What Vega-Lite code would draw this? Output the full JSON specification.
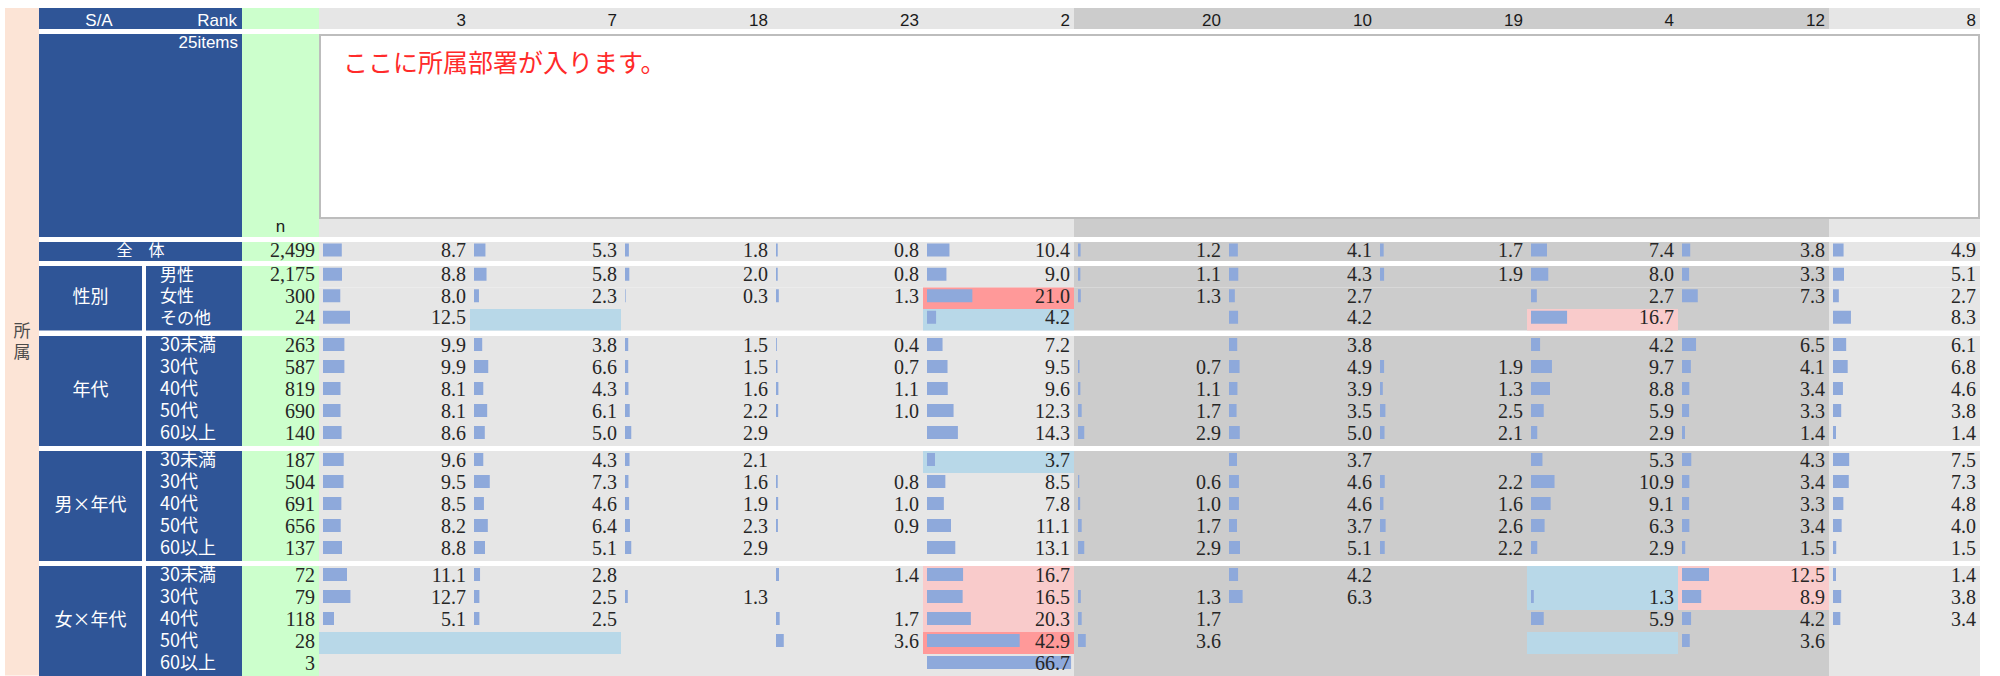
{
"$schema": "https://vega.github.io/schema/vega-lite/v6.json",
"background": "white",
"padding": {"left": 5, "top": 8, "right": 0, "bottom": 0},
"spacing": 0,
"datasets": {
"cols": [{"c":3},{"c":7},{"c":18},{"c":23},{"c":2},{"c":20},{"c":10},{"c":19},{"c":4},{"c":12},{"c":8}],
"groups": [{"g":"全体","label":"全　体"},{"g":"性別","label":"性別"},{"g":"年代","label":"年代"},{"g":"男×年代","label":"男×年代"},{"g":"女×年代","label":"女×年代"}],
"rows": [
{"g":"全体","s":"全体","n":2499},
{"g":"性別","s":"男性","n":2175},{"g":"性別","s":"女性","n":300},{"g":"性別","s":"その他","n":24},
{"g":"年代","s":"30未満","n":263},{"g":"年代","s":"30代","n":587},{"g":"年代","s":"40代","n":819},{"g":"年代","s":"50代","n":690},{"g":"年代","s":"60以上","n":140},
{"g":"男×年代","s":"30未満","n":187},{"g":"男×年代","s":"30代","n":504},{"g":"男×年代","s":"40代","n":691},{"g":"男×年代","s":"50代","n":656},{"g":"男×年代","s":"60以上","n":137},
{"g":"女×年代","s":"30未満","n":72},{"g":"女×年代","s":"30代","n":79},{"g":"女×年代","s":"40代","n":118},{"g":"女×年代","s":"50代","n":28},{"g":"女×年代","s":"60以上","n":3}
],
"cells": [
{"g":"全体","s":"全体","c":3,"v":8.7},{"g":"全体","s":"全体","c":7,"v":5.3},{"g":"全体","s":"全体","c":18,"v":1.8},{"g":"全体","s":"全体","c":23,"v":0.8},{"g":"全体","s":"全体","c":2,"v":10.4},{"g":"全体","s":"全体","c":20,"v":1.2},{"g":"全体","s":"全体","c":10,"v":4.1},{"g":"全体","s":"全体","c":19,"v":1.7},{"g":"全体","s":"全体","c":4,"v":7.4},{"g":"全体","s":"全体","c":12,"v":3.8},{"g":"全体","s":"全体","c":8,"v":4.9},

{"g":"性別","s":"男性","c":3,"v":8.8},{"g":"性別","s":"男性","c":7,"v":5.8},{"g":"性別","s":"男性","c":18,"v":2.0},{"g":"性別","s":"男性","c":23,"v":0.8},{"g":"性別","s":"男性","c":2,"v":9.0},{"g":"性別","s":"男性","c":20,"v":1.1},{"g":"性別","s":"男性","c":10,"v":4.3},{"g":"性別","s":"男性","c":19,"v":1.9},{"g":"性別","s":"男性","c":4,"v":8.0},{"g":"性別","s":"男性","c":12,"v":3.3},{"g":"性別","s":"男性","c":8,"v":5.1},
{"g":"性別","s":"女性","c":3,"v":8.0},{"g":"性別","s":"女性","c":7,"v":2.3},{"g":"性別","s":"女性","c":18,"v":0.3},{"g":"性別","s":"女性","c":23,"v":1.3},{"g":"性別","s":"女性","c":2,"v":21.0,"sig":"++"},{"g":"性別","s":"女性","c":20,"v":1.3},{"g":"性別","s":"女性","c":10,"v":2.7},{"g":"性別","s":"女性","c":19},{"g":"性別","s":"女性","c":4,"v":2.7},{"g":"性別","s":"女性","c":12,"v":7.3},{"g":"性別","s":"女性","c":8,"v":2.7},
{"g":"性別","s":"その他","c":3,"v":12.5},{"g":"性別","s":"その他","c":7,"sig":"-"},{"g":"性別","s":"その他","c":18},{"g":"性別","s":"その他","c":23},{"g":"性別","s":"その他","c":2,"v":4.2,"sig":"-"},{"g":"性別","s":"その他","c":20},{"g":"性別","s":"その他","c":10,"v":4.2},{"g":"性別","s":"その他","c":19},{"g":"性別","s":"その他","c":4,"v":16.7,"sig":"+"},{"g":"性別","s":"その他","c":12},{"g":"性別","s":"その他","c":8,"v":8.3},

{"g":"年代","s":"30未満","c":3,"v":9.9},{"g":"年代","s":"30未満","c":7,"v":3.8},{"g":"年代","s":"30未満","c":18,"v":1.5},{"g":"年代","s":"30未満","c":23,"v":0.4},{"g":"年代","s":"30未満","c":2,"v":7.2},{"g":"年代","s":"30未満","c":20},{"g":"年代","s":"30未満","c":10,"v":3.8},{"g":"年代","s":"30未満","c":19},{"g":"年代","s":"30未満","c":4,"v":4.2},{"g":"年代","s":"30未満","c":12,"v":6.5},{"g":"年代","s":"30未満","c":8,"v":6.1},
{"g":"年代","s":"30代","c":3,"v":9.9},{"g":"年代","s":"30代","c":7,"v":6.6},{"g":"年代","s":"30代","c":18,"v":1.5},{"g":"年代","s":"30代","c":23,"v":0.7},{"g":"年代","s":"30代","c":2,"v":9.5},{"g":"年代","s":"30代","c":20,"v":0.7},{"g":"年代","s":"30代","c":10,"v":4.9},{"g":"年代","s":"30代","c":19,"v":1.9},{"g":"年代","s":"30代","c":4,"v":9.7},{"g":"年代","s":"30代","c":12,"v":4.1},{"g":"年代","s":"30代","c":8,"v":6.8},
{"g":"年代","s":"40代","c":3,"v":8.1},{"g":"年代","s":"40代","c":7,"v":4.3},{"g":"年代","s":"40代","c":18,"v":1.6},{"g":"年代","s":"40代","c":23,"v":1.1},{"g":"年代","s":"40代","c":2,"v":9.6},{"g":"年代","s":"40代","c":20,"v":1.1},{"g":"年代","s":"40代","c":10,"v":3.9},{"g":"年代","s":"40代","c":19,"v":1.3},{"g":"年代","s":"40代","c":4,"v":8.8},{"g":"年代","s":"40代","c":12,"v":3.4},{"g":"年代","s":"40代","c":8,"v":4.6},
{"g":"年代","s":"50代","c":3,"v":8.1},{"g":"年代","s":"50代","c":7,"v":6.1},{"g":"年代","s":"50代","c":18,"v":2.2},{"g":"年代","s":"50代","c":23,"v":1.0},{"g":"年代","s":"50代","c":2,"v":12.3},{"g":"年代","s":"50代","c":20,"v":1.7},{"g":"年代","s":"50代","c":10,"v":3.5},{"g":"年代","s":"50代","c":19,"v":2.5},{"g":"年代","s":"50代","c":4,"v":5.9},{"g":"年代","s":"50代","c":12,"v":3.3},{"g":"年代","s":"50代","c":8,"v":3.8},
{"g":"年代","s":"60以上","c":3,"v":8.6},{"g":"年代","s":"60以上","c":7,"v":5.0},{"g":"年代","s":"60以上","c":18,"v":2.9},{"g":"年代","s":"60以上","c":23},{"g":"年代","s":"60以上","c":2,"v":14.3},{"g":"年代","s":"60以上","c":20,"v":2.9},{"g":"年代","s":"60以上","c":10,"v":5.0},{"g":"年代","s":"60以上","c":19,"v":2.1},{"g":"年代","s":"60以上","c":4,"v":2.9},{"g":"年代","s":"60以上","c":12,"v":1.4},{"g":"年代","s":"60以上","c":8,"v":1.4},

{"g":"男×年代","s":"30未満","c":3,"v":9.6},{"g":"男×年代","s":"30未満","c":7,"v":4.3},{"g":"男×年代","s":"30未満","c":18,"v":2.1},{"g":"男×年代","s":"30未満","c":23},{"g":"男×年代","s":"30未満","c":2,"v":3.7,"sig":"-"},{"g":"男×年代","s":"30未満","c":20},{"g":"男×年代","s":"30未満","c":10,"v":3.7},{"g":"男×年代","s":"30未満","c":19},{"g":"男×年代","s":"30未満","c":4,"v":5.3},{"g":"男×年代","s":"30未満","c":12,"v":4.3},{"g":"男×年代","s":"30未満","c":8,"v":7.5},
{"g":"男×年代","s":"30代","c":3,"v":9.5},{"g":"男×年代","s":"30代","c":7,"v":7.3},{"g":"男×年代","s":"30代","c":18,"v":1.6},{"g":"男×年代","s":"30代","c":23,"v":0.8},{"g":"男×年代","s":"30代","c":2,"v":8.5},{"g":"男×年代","s":"30代","c":20,"v":0.6},{"g":"男×年代","s":"30代","c":10,"v":4.6},{"g":"男×年代","s":"30代","c":19,"v":2.2},{"g":"男×年代","s":"30代","c":4,"v":10.9},{"g":"男×年代","s":"30代","c":12,"v":3.4},{"g":"男×年代","s":"30代","c":8,"v":7.3},
{"g":"男×年代","s":"40代","c":3,"v":8.5},{"g":"男×年代","s":"40代","c":7,"v":4.6},{"g":"男×年代","s":"40代","c":18,"v":1.9},{"g":"男×年代","s":"40代","c":23,"v":1.0},{"g":"男×年代","s":"40代","c":2,"v":7.8},{"g":"男×年代","s":"40代","c":20,"v":1.0},{"g":"男×年代","s":"40代","c":10,"v":4.6},{"g":"男×年代","s":"40代","c":19,"v":1.6},{"g":"男×年代","s":"40代","c":4,"v":9.1},{"g":"男×年代","s":"40代","c":12,"v":3.3},{"g":"男×年代","s":"40代","c":8,"v":4.8},
{"g":"男×年代","s":"50代","c":3,"v":8.2},{"g":"男×年代","s":"50代","c":7,"v":6.4},{"g":"男×年代","s":"50代","c":18,"v":2.3},{"g":"男×年代","s":"50代","c":23,"v":0.9},{"g":"男×年代","s":"50代","c":2,"v":11.1},{"g":"男×年代","s":"50代","c":20,"v":1.7},{"g":"男×年代","s":"50代","c":10,"v":3.7},{"g":"男×年代","s":"50代","c":19,"v":2.6},{"g":"男×年代","s":"50代","c":4,"v":6.3},{"g":"男×年代","s":"50代","c":12,"v":3.4},{"g":"男×年代","s":"50代","c":8,"v":4.0},
{"g":"男×年代","s":"60以上","c":3,"v":8.8},{"g":"男×年代","s":"60以上","c":7,"v":5.1},{"g":"男×年代","s":"60以上","c":18,"v":2.9},{"g":"男×年代","s":"60以上","c":23},{"g":"男×年代","s":"60以上","c":2,"v":13.1},{"g":"男×年代","s":"60以上","c":20,"v":2.9},{"g":"男×年代","s":"60以上","c":10,"v":5.1},{"g":"男×年代","s":"60以上","c":19,"v":2.2},{"g":"男×年代","s":"60以上","c":4,"v":2.9},{"g":"男×年代","s":"60以上","c":12,"v":1.5},{"g":"男×年代","s":"60以上","c":8,"v":1.5},

{"g":"女×年代","s":"30未満","c":3,"v":11.1},{"g":"女×年代","s":"30未満","c":7,"v":2.8},{"g":"女×年代","s":"30未満","c":18},{"g":"女×年代","s":"30未満","c":23,"v":1.4},{"g":"女×年代","s":"30未満","c":2,"v":16.7,"sig":"+"},{"g":"女×年代","s":"30未満","c":20},{"g":"女×年代","s":"30未満","c":10,"v":4.2},{"g":"女×年代","s":"30未満","c":19},{"g":"女×年代","s":"30未満","c":4,"sig":"-"},{"g":"女×年代","s":"30未満","c":12,"v":12.5,"sig":"+"},{"g":"女×年代","s":"30未満","c":8,"v":1.4},
{"g":"女×年代","s":"30代","c":3,"v":12.7},{"g":"女×年代","s":"30代","c":7,"v":2.5},{"g":"女×年代","s":"30代","c":18,"v":1.3},{"g":"女×年代","s":"30代","c":23},{"g":"女×年代","s":"30代","c":2,"v":16.5,"sig":"+"},{"g":"女×年代","s":"30代","c":20,"v":1.3},{"g":"女×年代","s":"30代","c":10,"v":6.3},{"g":"女×年代","s":"30代","c":19},{"g":"女×年代","s":"30代","c":4,"v":1.3,"sig":"-"},{"g":"女×年代","s":"30代","c":12,"v":8.9,"sig":"+"},{"g":"女×年代","s":"30代","c":8,"v":3.8},
{"g":"女×年代","s":"40代","c":3,"v":5.1},{"g":"女×年代","s":"40代","c":7,"v":2.5},{"g":"女×年代","s":"40代","c":18},{"g":"女×年代","s":"40代","c":23,"v":1.7},{"g":"女×年代","s":"40代","c":2,"v":20.3,"sig":"+"},{"g":"女×年代","s":"40代","c":20,"v":1.7},{"g":"女×年代","s":"40代","c":10},{"g":"女×年代","s":"40代","c":19},{"g":"女×年代","s":"40代","c":4,"v":5.9},{"g":"女×年代","s":"40代","c":12,"v":4.2},{"g":"女×年代","s":"40代","c":8,"v":3.4},
{"g":"女×年代","s":"50代","c":3,"sig":"-"},{"g":"女×年代","s":"50代","c":7,"sig":"-"},{"g":"女×年代","s":"50代","c":18},{"g":"女×年代","s":"50代","c":23,"v":3.6},{"g":"女×年代","s":"50代","c":2,"v":42.9,"sig":"++"},{"g":"女×年代","s":"50代","c":20,"v":3.6},{"g":"女×年代","s":"50代","c":10},{"g":"女×年代","s":"50代","c":19},{"g":"女×年代","s":"50代","c":4,"sig":"-"},{"g":"女×年代","s":"50代","c":12,"v":3.6},{"g":"女×年代","s":"50代","c":8},
{"g":"女×年代","s":"60以上","c":3},{"g":"女×年代","s":"60以上","c":7},{"g":"女×年代","s":"60以上","c":18},{"g":"女×年代","s":"60以上","c":23},{"g":"女×年代","s":"60以上","c":2,"v":66.7},{"g":"女×年代","s":"60以上","c":20},{"g":"女×年代","s":"60以上","c":10},{"g":"女×年代","s":"60以上","c":19},{"g":"女×年代","s":"60以上","c":4},{"g":"女×年代","s":"60以上","c":12},{"g":"女×年代","s":"60以上","c":8}
]
},
"hconcat": [
{
"width": 34, "height": 667.5,
"view": {"fill": "#FCE4D6", "stroke": null},
"data": {"values": [{"t": ["所", "属"]}]},
"mark": {"type": "text", "align": "center", "baseline": "middle", "dy": -10, "font": "Noto Sans CJK JP", "fontSize": 17, "lineHeight": 21, "color": "#4A4A4A"},
"encoding": {"text": {"field": "t"}}
},
{
"vconcat": [
{
"hconcat": [
{
"width": 203, "height": 21,
"view": {"fill": "#2F5597", "stroke": null},
"data": {"values": [{"a": "S/A", "b": "Rank"}]},
"layer": [
{"mark": {"type": "text", "clip": true, "align": "center", "baseline": "middle", "dx": 60, "dy": 2.5, "color": "#FFFFFF", "font": "Liberation Sans", "fontSize": 17},
"encoding": {"x": {"datum": 0, "type": "quantitative", "scale": {"domain": [0, 1]}, "axis": null}, "text": {"field": "a"}}},
{"mark": {"type": "text", "clip": true, "align": "right", "baseline": "middle", "dx": -5, "dy": 2.5, "color": "#FFFFFF", "font": "Liberation Sans", "fontSize": 17},
"encoding": {"x": {"datum": 1, "type": "quantitative", "scale": {"domain": [0, 1]}, "axis": null}, "text": {"field": "b"}}}
]
},
{
"width": 77, "height": 21,
"view": {"fill": "#CCFFCC", "stroke": null},
"data": {"values": [{"t": ""}]},
"mark": {"type": "text", "clip": true},
"encoding": {"text": {"field": "t"}}
},
{
"width": 1661, "height": 21,
"data": {"name": "cols"},
"layer": [
{"mark": {"type": "rect"},
"encoding": {"x": {"field": "c", "type": "ordinal", "sort": [3,7,18,23,2,20,10,19,4,12,8], "axis": null},
"color": {"field": "c", "type": "ordinal", "scale": {"domain": [3,7,18,23,2,20,10,19,4,12,8], "range": ["#E6E6E6","#E6E6E6","#E6E6E6","#E6E6E6","#E6E6E6","#CCCCCC","#CCCCCC","#CCCCCC","#CCCCCC","#CCCCCC","#E6E6E6"]}, "legend": null}}},
{"mark": {"type": "text", "clip": true, "align": "right", "baseline": "middle", "dx": -4, "dy": 2.5, "color": "#1A1A1A", "font": "Liberation Sans", "fontSize": 17},
"encoding": {"x": {"field": "c", "type": "ordinal", "sort": [3,7,18,23,2,20,10,19,4,12,8], "axis": null, "bandPosition": 1}, "text": {"field": "c"}}}
]
}
],
"spacing": 0
},
{
"hconcat": [
{
"width": 203, "height": 203,
"view": {"fill": "#2F5597", "stroke": null},
"data": {"values": [{"t": "25items"}]},
"mark": {"type": "text", "clip": true, "align": "right", "baseline": "top", "dx": -4, "dy": 1, "color": "#FFFFFF", "font": "Liberation Sans", "fontSize": 17},
"encoding": {"x": {"datum": 1, "type": "quantitative", "scale": {"domain": [0, 1]}, "axis": null}, "y": {"datum": 1, "type": "quantitative", "scale": {"domain": [0, 1]}, "axis": null}, "text": {"field": "t"}}
},
{
"width": 77, "height": 203,
"view": {"fill": "#CCFFCC", "stroke": null},
"data": {"values": [{"t": "n"}]},
"mark": {"type": "text", "clip": true, "align": "center", "baseline": "bottom", "dy": -1, "color": "#1A1A1A", "font": "Liberation Sans", "fontSize": 17},
"encoding": {"y": {"datum": 0, "type": "quantitative", "scale": {"domain": [0, 1]}, "axis": null}, "text": {"field": "t"}}
},
{
"vconcat": [
{
"width": 1661, "height": 185,
"view": {"fill": "#FFFFFF", "stroke": null},
"data": {"values": [{"t": "ここに所属部署が入ります。"}]},
"layer": [
{"mark": {"type": "rect", "clip": true, "fill": "#FFFFFF", "stroke": "#BDBDBD", "strokeWidth": 4},
"encoding": {"x": {"datum": 0, "type": "quantitative", "scale": {"domain": [0, 1]}, "axis": null}, "x2": {"datum": 1}, "y": {"datum": 0, "type": "quantitative", "scale": {"domain": [0, 1]}, "axis": null}, "y2": {"datum": 1}}},
{"mark": {"type": "text", "clip": true, "align": "left", "baseline": "middle", "dx": 24, "dy": 30, "color": "#FF2A2A", "font": "Noto Sans CJK JP", "fontSize": 25},
"encoding": {"x": {"datum": 0, "type": "quantitative"}, "y": {"datum": 1, "type": "quantitative"}, "text": {"field": "t"}}}
]
},
{
"width": 1661, "height": 18,
"data": {"name": "cols"},
"mark": {"type": "rect"},
"encoding": {"x": {"field": "c", "type": "ordinal", "sort": [3,7,18,23,2,20,10,19,4,12,8], "axis": null},
"color": {"field": "c", "type": "ordinal", "scale": {"domain": [3,7,18,23,2,20,10,19,4,12,8], "range": ["#E6E6E6","#E6E6E6","#E6E6E6","#E6E6E6","#E6E6E6","#CCCCCC","#CCCCCC","#CCCCCC","#CCCCCC","#CCCCCC","#E6E6E6"]}, "legend": null}}
}
],
"spacing": 0
}
],
"spacing": 0
},
{
"hconcat": [
{
"width": 203, "height": 19,
"view": {"fill": "#2F5597", "stroke": null},
"data": {"name": "groups"},
"transform": [{"filter": "datum.g === '全体'"}],
"mark": {"type": "text", "clip": true, "align": "center", "baseline": "middle", "dy": -1, "color": "#FFFFFF", "font": "Noto Sans CJK JP", "fontSize": 16},
"encoding": {"text": {"field": "label"}}
},
{
"width": 77, "height": 19,
"view": {"fill": "#CCFFCC", "stroke": null},
"data": {"name": "rows"},
"transform": [{"filter": "datum.g === '全体'"}],
"mark": {"type": "text", "clip": true, "align": "right", "baseline": "middle", "dx": -4, "dy": -1, "color": "#262626", "font": "Liberation Serif", "fontSize": 20},
"encoding": {"x": {"datum": 1, "type": "quantitative", "scale": {"domain": [0, 1]}, "axis": null}, "text": {"field": "n", "type": "quantitative", "format": ","}}
},
{
"data": {"name": "cells"},
"transform": [{"filter": "datum.g === '全体'"}],
"facet": {"column": {"field": "c", "type": "ordinal", "sort": [3,7,18,23,2,20,10,19,4,12,8], "header": null}},
"spacing": 0, "bounds": "flush",
"spec": {
"width": 151, "height": 19,
"layer": [
{"mark": {"type": "rect"},
"encoding": {"y": {"field": "s", "type": "nominal", "scale": {"domain": ["全体"]}, "axis": null},
"color": {"field": "c", "type": "ordinal", "scale": {"domain": [3,7,18,23,2,20,10,19,4,12,8], "range": ["#E6E6E6","#E6E6E6","#E6E6E6","#E6E6E6","#E6E6E6","#CCCCCC","#CCCCCC","#CCCCCC","#CCCCCC","#CCCCCC","#E6E6E6"]}, "legend": null}}},
{"transform": [{"filter": "isValid(datum.v)"}],
"mark": {"type": "bar", "color": "#8EA9DB", "size": 13, "yOffset": -1.5},
"encoding": {"x": {"field": "v", "type": "quantitative", "scale": {"domain": [-1.85, 68.05], "nice": false}, "axis": null},
"y": {"field": "s", "type": "nominal", "scale": {"domain": ["全体"]}, "axis": null}}},
{"transform": [{"filter": "isValid(datum.v)"}],
"mark": {"type": "text", "clip": true, "align": "right", "baseline": "middle", "dx": -4, "dy": -1, "color": "#262626", "font": "Liberation Serif", "fontSize": 20},
"encoding": {"x": {"datum": 68.05, "type": "quantitative"},
"y": {"field": "s", "type": "nominal", "scale": {"domain": ["全体"]}, "axis": null},
"text": {"field": "v", "type": "quantitative", "format": ".1f"}}}
]
}
}
],
"spacing": 0
},
{
"hconcat": [
{
"width": 103, "height": 64.5,
"view": {"fill": "#2F5597", "stroke": null},
"data": {"name": "groups"},
"transform": [{"filter": "datum.g === '性別'"}],
"mark": {"type": "text", "clip": true, "align": "center", "baseline": "middle", "color": "#FFFFFF", "font": "Noto Sans CJK JP", "fontSize": 18},
"encoding": {"text": {"field": "label"}}
},
{
"hconcat": [
{
"width": 96, "height": 64.5,
"view": {"fill": "#2F5597", "stroke": null},
"data": {"name": "rows"},
"transform": [{"filter": "datum.g === '性別'"}],
"mark": {"type": "text", "clip": true, "align": "left", "baseline": "middle", "dx": 14, "dy": -1, "color": "#FFFFFF", "font": "Noto Sans CJK JP", "fontSize": 17},
"encoding": {"x": {"datum": 0, "type": "quantitative", "scale": {"domain": [0, 1]}, "axis": null}, "y": {"field": "s", "type": "nominal", "scale": {"domain": ["男性","女性","その他"]}, "axis": null}, "text": {"field": "s"}}
},
{
"width": 77, "height": 64.5,
"view": {"fill": "#CCFFCC", "stroke": null},
"data": {"name": "rows"},
"transform": [{"filter": "datum.g === '性別'"}],
"mark": {"type": "text", "clip": true, "align": "right", "baseline": "middle", "dx": -4, "dy": -1.5, "color": "#262626", "font": "Liberation Serif", "fontSize": 20},
"encoding": {"x": {"datum": 1, "type": "quantitative", "scale": {"domain": [0, 1]}, "axis": null}, "y": {"field": "s", "type": "nominal", "scale": {"domain": ["男性","女性","その他"]}, "axis": null}, "text": {"field": "n", "type": "quantitative", "format": ","}}
},
{
"data": {"name": "cells"},
"transform": [{"filter": "datum.g === '性別'"}],
"facet": {"column": {"field": "c", "type": "ordinal", "sort": [3,7,18,23,2,20,10,19,4,12,8], "header": null}},
"spacing": 0, "bounds": "flush",
"spec": {
"width": 151, "height": 64.5,
"layer": [
{"mark": {"type": "rect"},
"encoding": {"y": {"field": "s", "type": "nominal", "scale": {"domain": ["男性","女性","その他"]}, "axis": null},
"color": {"field": "c", "type": "ordinal", "scale": {"domain": [3,7,18,23,2,20,10,19,4,12,8], "range": ["#E6E6E6","#E6E6E6","#E6E6E6","#E6E6E6","#E6E6E6","#CCCCCC","#CCCCCC","#CCCCCC","#CCCCCC","#CCCCCC","#E6E6E6"]}, "legend": null}}},
{"transform": [{"filter": "isValid(datum.sig)"}],
"mark": {"type": "rect"},
"encoding": {"y": {"field": "s", "type": "nominal", "scale": {"domain": ["男性","女性","その他"]}, "axis": null},
"fill": {"field": "sig", "type": "nominal", "scale": {"domain": ["++","+","-"], "range": ["#FF9999","#F9CBCB","#B8D8E8"]}, "legend": null}}},
{"transform": [{"filter": "isValid(datum.v)"}],
"mark": {"type": "bar", "color": "#8EA9DB", "size": 13, "yOffset": -2.5},
"encoding": {"x": {"field": "v", "type": "quantitative", "scale": {"domain": [-1.85, 68.05], "nice": false}, "axis": null},
"y": {"field": "s", "type": "nominal", "scale": {"domain": ["男性","女性","その他"]}, "axis": null}}},
{"transform": [{"filter": "isValid(datum.v)"}],
"mark": {"type": "text", "clip": true, "align": "right", "baseline": "middle", "dx": -4, "dy": -1.5, "color": "#262626", "font": "Liberation Serif", "fontSize": 20},
"encoding": {"x": {"datum": 68.05, "type": "quantitative"},
"y": {"field": "s", "type": "nominal", "scale": {"domain": ["男性","女性","その他"]}, "axis": null},
"text": {"field": "v", "type": "quantitative", "format": ".1f"}}}
]
}
}
],
"spacing": 0
}
],
"spacing": 4
},
{
"hconcat": [
{
"width": 103, "height": 110,
"view": {"fill": "#2F5597", "stroke": null},
"data": {"name": "groups"},
"transform": [{"filter": "datum.g === '年代'"}],
"mark": {"type": "text", "clip": true, "align": "center", "baseline": "middle", "color": "#FFFFFF", "font": "Noto Sans CJK JP", "fontSize": 18},
"encoding": {"text": {"field": "label"}}
},
{
"hconcat": [
{
"width": 96, "height": 110,
"view": {"fill": "#2F5597", "stroke": null},
"data": {"name": "rows"},
"transform": [{"filter": "datum.g === '年代'"}],
"mark": {"type": "text", "clip": true, "align": "left", "baseline": "middle", "dx": 14, "dy": -1, "color": "#FFFFFF", "font": "Noto Sans CJK JP", "fontSize": 18},
"encoding": {"x": {"datum": 0, "type": "quantitative", "scale": {"domain": [0, 1]}, "axis": null}, "y": {"field": "s", "type": "nominal", "scale": {"domain": ["30未満","30代","40代","50代","60以上"]}, "axis": null}, "text": {"field": "s"}}
},
{
"width": 77, "height": 110,
"view": {"fill": "#CCFFCC", "stroke": null},
"data": {"name": "rows"},
"transform": [{"filter": "datum.g === '年代'"}],
"mark": {"type": "text", "clip": true, "align": "right", "baseline": "middle", "dx": -4, "dy": -1.5, "color": "#262626", "font": "Liberation Serif", "fontSize": 20},
"encoding": {"x": {"datum": 1, "type": "quantitative", "scale": {"domain": [0, 1]}, "axis": null}, "y": {"field": "s", "type": "nominal", "scale": {"domain": ["30未満","30代","40代","50代","60以上"]}, "axis": null}, "text": {"field": "n", "type": "quantitative", "format": ","}}
},
{
"data": {"name": "cells"},
"transform": [{"filter": "datum.g === '年代'"}],
"facet": {"column": {"field": "c", "type": "ordinal", "sort": [3,7,18,23,2,20,10,19,4,12,8], "header": null}},
"spacing": 0, "bounds": "flush",
"spec": {
"width": 151, "height": 110,
"layer": [
{"mark": {"type": "rect"},
"encoding": {"y": {"field": "s", "type": "nominal", "scale": {"domain": ["30未満","30代","40代","50代","60以上"]}, "axis": null},
"color": {"field": "c", "type": "ordinal", "scale": {"domain": [3,7,18,23,2,20,10,19,4,12,8], "range": ["#E6E6E6","#E6E6E6","#E6E6E6","#E6E6E6","#E6E6E6","#CCCCCC","#CCCCCC","#CCCCCC","#CCCCCC","#CCCCCC","#E6E6E6"]}, "legend": null}}},
{"transform": [{"filter": "isValid(datum.v)"}],
"mark": {"type": "bar", "color": "#8EA9DB", "size": 13, "yOffset": -2.5},
"encoding": {"x": {"field": "v", "type": "quantitative", "scale": {"domain": [-1.85, 68.05], "nice": false}, "axis": null},
"y": {"field": "s", "type": "nominal", "scale": {"domain": ["30未満","30代","40代","50代","60以上"]}, "axis": null}}},
{"transform": [{"filter": "isValid(datum.v)"}],
"mark": {"type": "text", "clip": true, "align": "right", "baseline": "middle", "dx": -4, "dy": -1.5, "color": "#262626", "font": "Liberation Serif", "fontSize": 20},
"encoding": {"x": {"datum": 68.05, "type": "quantitative"},
"y": {"field": "s", "type": "nominal", "scale": {"domain": ["30未満","30代","40代","50代","60以上"]}, "axis": null},
"text": {"field": "v", "type": "quantitative", "format": ".1f"}}}
]
}
}
],
"spacing": 0
}
],
"spacing": 4
},
{
"hconcat": [
{
"width": 103, "height": 110,
"view": {"fill": "#2F5597", "stroke": null},
"data": {"name": "groups"},
"transform": [{"filter": "datum.g === '男×年代'"}],
"mark": {"type": "text", "clip": true, "align": "center", "baseline": "middle", "color": "#FFFFFF", "font": "Noto Sans CJK JP", "fontSize": 18},
"encoding": {"text": {"field": "label"}}
},
{
"hconcat": [
{
"width": 96, "height": 110,
"view": {"fill": "#2F5597", "stroke": null},
"data": {"name": "rows"},
"transform": [{"filter": "datum.g === '男×年代'"}],
"mark": {"type": "text", "clip": true, "align": "left", "baseline": "middle", "dx": 14, "dy": -1, "color": "#FFFFFF", "font": "Noto Sans CJK JP", "fontSize": 18},
"encoding": {"x": {"datum": 0, "type": "quantitative", "scale": {"domain": [0, 1]}, "axis": null}, "y": {"field": "s", "type": "nominal", "scale": {"domain": ["30未満","30代","40代","50代","60以上"]}, "axis": null}, "text": {"field": "s"}}
},
{
"width": 77, "height": 110,
"view": {"fill": "#CCFFCC", "stroke": null},
"data": {"name": "rows"},
"transform": [{"filter": "datum.g === '男×年代'"}],
"mark": {"type": "text", "clip": true, "align": "right", "baseline": "middle", "dx": -4, "dy": -1.5, "color": "#262626", "font": "Liberation Serif", "fontSize": 20},
"encoding": {"x": {"datum": 1, "type": "quantitative", "scale": {"domain": [0, 1]}, "axis": null}, "y": {"field": "s", "type": "nominal", "scale": {"domain": ["30未満","30代","40代","50代","60以上"]}, "axis": null}, "text": {"field": "n", "type": "quantitative", "format": ","}}
},
{
"data": {"name": "cells"},
"transform": [{"filter": "datum.g === '男×年代'"}],
"facet": {"column": {"field": "c", "type": "ordinal", "sort": [3,7,18,23,2,20,10,19,4,12,8], "header": null}},
"spacing": 0, "bounds": "flush",
"spec": {
"width": 151, "height": 110,
"layer": [
{"mark": {"type": "rect"},
"encoding": {"y": {"field": "s", "type": "nominal", "scale": {"domain": ["30未満","30代","40代","50代","60以上"]}, "axis": null},
"color": {"field": "c", "type": "ordinal", "scale": {"domain": [3,7,18,23,2,20,10,19,4,12,8], "range": ["#E6E6E6","#E6E6E6","#E6E6E6","#E6E6E6","#E6E6E6","#CCCCCC","#CCCCCC","#CCCCCC","#CCCCCC","#CCCCCC","#E6E6E6"]}, "legend": null}}},
{"transform": [{"filter": "isValid(datum.sig)"}],
"mark": {"type": "rect"},
"encoding": {"y": {"field": "s", "type": "nominal", "scale": {"domain": ["30未満","30代","40代","50代","60以上"]}, "axis": null},
"fill": {"field": "sig", "type": "nominal", "scale": {"domain": ["++","+","-"], "range": ["#FF9999","#F9CBCB","#B8D8E8"]}, "legend": null}}},
{"transform": [{"filter": "isValid(datum.v)"}],
"mark": {"type": "bar", "color": "#8EA9DB", "size": 13, "yOffset": -2.5},
"encoding": {"x": {"field": "v", "type": "quantitative", "scale": {"domain": [-1.85, 68.05], "nice": false}, "axis": null},
"y": {"field": "s", "type": "nominal", "scale": {"domain": ["30未満","30代","40代","50代","60以上"]}, "axis": null}}},
{"transform": [{"filter": "isValid(datum.v)"}],
"mark": {"type": "text", "clip": true, "align": "right", "baseline": "middle", "dx": -4, "dy": -1.5, "color": "#262626", "font": "Liberation Serif", "fontSize": 20},
"encoding": {"x": {"datum": 68.05, "type": "quantitative"},
"y": {"field": "s", "type": "nominal", "scale": {"domain": ["30未満","30代","40代","50代","60以上"]}, "axis": null},
"text": {"field": "v", "type": "quantitative", "format": ".1f"}}}
]
}
}
],
"spacing": 0
}
],
"spacing": 4
},
{
"hconcat": [
{
"width": 103, "height": 110,
"view": {"fill": "#2F5597", "stroke": null},
"data": {"name": "groups"},
"transform": [{"filter": "datum.g === '女×年代'"}],
"mark": {"type": "text", "clip": true, "align": "center", "baseline": "middle", "color": "#FFFFFF", "font": "Noto Sans CJK JP", "fontSize": 18},
"encoding": {"text": {"field": "label"}}
},
{
"hconcat": [
{
"width": 96, "height": 110,
"view": {"fill": "#2F5597", "stroke": null},
"data": {"name": "rows"},
"transform": [{"filter": "datum.g === '女×年代'"}],
"mark": {"type": "text", "clip": true, "align": "left", "baseline": "middle", "dx": 14, "dy": -1, "color": "#FFFFFF", "font": "Noto Sans CJK JP", "fontSize": 18},
"encoding": {"x": {"datum": 0, "type": "quantitative", "scale": {"domain": [0, 1]}, "axis": null}, "y": {"field": "s", "type": "nominal", "scale": {"domain": ["30未満","30代","40代","50代","60以上"]}, "axis": null}, "text": {"field": "s"}}
},
{
"width": 77, "height": 110,
"view": {"fill": "#CCFFCC", "stroke": null},
"data": {"name": "rows"},
"transform": [{"filter": "datum.g === '女×年代'"}],
"mark": {"type": "text", "clip": true, "align": "right", "baseline": "middle", "dx": -4, "dy": -1.5, "color": "#262626", "font": "Liberation Serif", "fontSize": 20},
"encoding": {"x": {"datum": 1, "type": "quantitative", "scale": {"domain": [0, 1]}, "axis": null}, "y": {"field": "s", "type": "nominal", "scale": {"domain": ["30未満","30代","40代","50代","60以上"]}, "axis": null}, "text": {"field": "n", "type": "quantitative", "format": ","}}
},
{
"data": {"name": "cells"},
"transform": [{"filter": "datum.g === '女×年代'"}],
"facet": {"column": {"field": "c", "type": "ordinal", "sort": [3,7,18,23,2,20,10,19,4,12,8], "header": null}},
"spacing": 0, "bounds": "flush",
"spec": {
"width": 151, "height": 110,
"layer": [
{"mark": {"type": "rect"},
"encoding": {"y": {"field": "s", "type": "nominal", "scale": {"domain": ["30未満","30代","40代","50代","60以上"]}, "axis": null},
"color": {"field": "c", "type": "ordinal", "scale": {"domain": [3,7,18,23,2,20,10,19,4,12,8], "range": ["#E6E6E6","#E6E6E6","#E6E6E6","#E6E6E6","#E6E6E6","#CCCCCC","#CCCCCC","#CCCCCC","#CCCCCC","#CCCCCC","#E6E6E6"]}, "legend": null}}},
{"transform": [{"filter": "isValid(datum.sig)"}],
"mark": {"type": "rect"},
"encoding": {"y": {"field": "s", "type": "nominal", "scale": {"domain": ["30未満","30代","40代","50代","60以上"]}, "axis": null},
"fill": {"field": "sig", "type": "nominal", "scale": {"domain": ["++","+","-"], "range": ["#FF9999","#F9CBCB","#B8D8E8"]}, "legend": null}}},
{"transform": [{"filter": "isValid(datum.v)"}],
"mark": {"type": "bar", "color": "#8EA9DB", "size": 13, "yOffset": -2.5},
"encoding": {"x": {"field": "v", "type": "quantitative", "scale": {"domain": [-1.85, 68.05], "nice": false}, "axis": null},
"y": {"field": "s", "type": "nominal", "scale": {"domain": ["30未満","30代","40代","50代","60以上"]}, "axis": null}}},
{"transform": [{"filter": "isValid(datum.v)"}],
"mark": {"type": "text", "clip": true, "align": "right", "baseline": "middle", "dx": -4, "dy": -1.5, "color": "#262626", "font": "Liberation Serif", "fontSize": 20},
"encoding": {"x": {"datum": 68.05, "type": "quantitative"},
"y": {"field": "s", "type": "nominal", "scale": {"domain": ["30未満","30代","40代","50代","60以上"]}, "axis": null},
"text": {"field": "v", "type": "quantitative", "format": ".1f"}}}
]
}
}
],
"spacing": 0
}
],
"spacing": 4
}
],
"spacing": 5
}
],
"config": {
"view": {"stroke": null},
"scale": {"bandPaddingInner": 0, "bandPaddingOuter": 0, "barBandPaddingInner": 0, "rectBandPaddingInner": 0},
"concat": {"spacing": 0},
"facet": {"spacing": 0}
}
}
